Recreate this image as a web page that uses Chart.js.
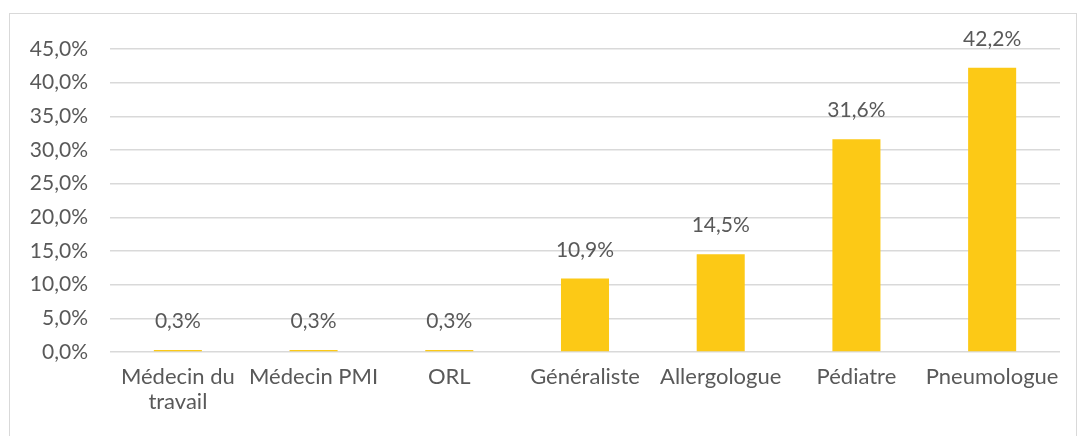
<!DOCTYPE html>
<html>
<head>
<meta charset="utf-8">
<script src="https://cdn.jsdelivr.net/npm/chart.js@4/dist/chart.umd.min.js"></script>
<style>
  body { margin: 0; background: #fff; }
  #frame {
    position: absolute; left: 9px; top: 13px;
    width: 1066px; height: 428px;
    border: 1px solid #d9d9d9;
  }
</style>
</head>
<body>
<div id="frame"><canvas id="specialistes" width="1066" height="428"></canvas></div>
<script>
(function () {
  'use strict';

  const categories = [['Médecin du', 'travail'], 'Médecin PMI', 'ORL', 'Généraliste', 'Allergologue', 'Pédiatre', 'Pneumologue'];
  const values = [0.3, 0.3, 0.3, 10.9, 14.5, 31.6, 42.2];
  const yTicks = [0, 5, 10, 15, 20, 25, 30, 35, 40, 45];

  const FONT = 'Lato, "Open Sans", sans-serif';
  const TEXT = '#595959';

  function pct(v) {
    return v.toFixed(1).replace('.', ',') + '%';
  }

  // Value labels above each bar
  const valueLabels = {
    id: 'valueLabels',
    afterDatasetsDraw(chart) {
      const ctx = chart.ctx;
      const meta = chart.getDatasetMeta(0);
      ctx.save();
      ctx.font = '21px ' + FONT;
      ctx.fillStyle = TEXT;
      ctx.textAlign = 'center';
      ctx.textBaseline = 'alphabetic';
      meta.data.forEach((bar, i) => {
        ctx.fillText(pct(values[i]), bar.x, bar.y - 22);
      });
      ctx.restore();
    }
  };

  const ctx = document.getElementById('specialistes').getContext('2d');

  window.specChart = new Chart(ctx, {
    type: 'bar',
    data: {
      labels: categories,
      datasets: [{
        data: values,
        backgroundColor: '#fcc916',
        categoryPercentage: 1,
        barPercentage: 0.354
      }]
    },
    options: {
      responsive: false,
      animation: false,
      layout: { padding: { top: 35, right: 16, left: 0, bottom: 0 } },
      plugins: {
        legend: { display: false },
        tooltip: { enabled: false }
      },
      scales: {
        x: {
          grid: { display: false, drawTicks: false },
          border: { display: false },
          ticks: {
            color: TEXT,
            font: { family: FONT, size: 22, lineHeight: 1.15 },
            padding: 12,
            maxRotation: 0,
            autoSkip: false
          },
          afterFit(scale) { scale.height = 90; }
        },
        y: {
          min: 0,
          max: 45,
          grid: { color: '#d9d9d9', lineWidth: 1.5, drawTicks: false },
          border: { display: false },
          afterBuildTicks(scale) { scale.ticks = yTicks.map((v) => ({ value: v })); },
          ticks: {
            color: TEXT,
            font: { family: FONT, size: 21 },
            padding: 22,
            callback: (v) => pct(v)
          },
          afterFit(scale) { scale.width = 100; }
        }
      }
    },
    plugins: [valueLabels]
  });
})();
</script>
</body>
</html>
